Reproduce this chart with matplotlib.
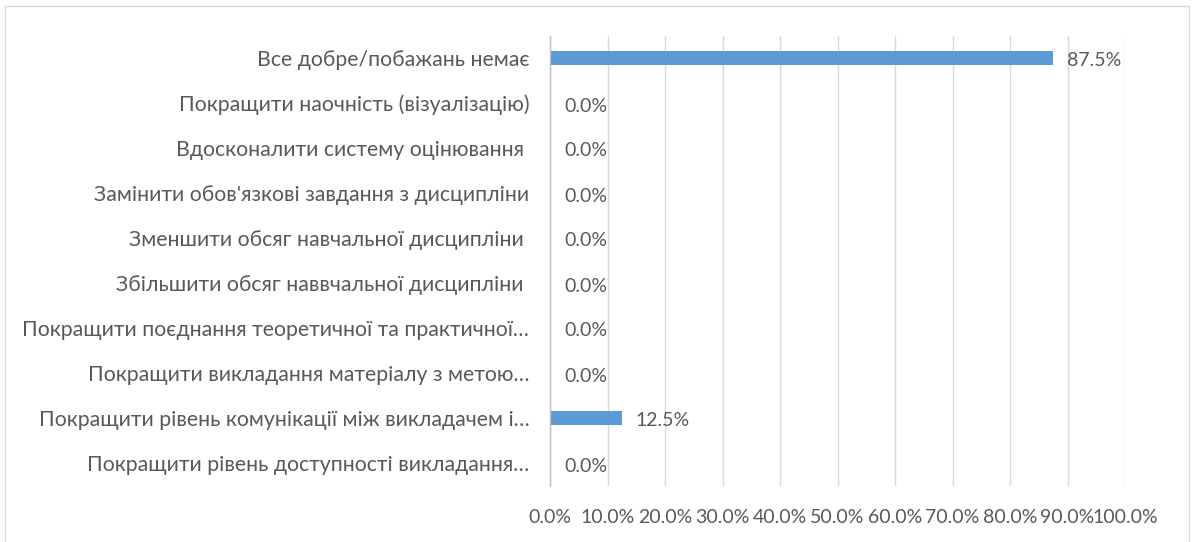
import matplotlib
matplotlib.use("Agg")
import matplotlib.pyplot as plt
from matplotlib.patches import Rectangle

categories = [
    "Все добре/побажань немає",
    "Покращити наочність (візуалізацію)",
    "Вдосконалити систему оцінювання ",
    "Замінити обов'язкові завдання з дисципліни",
    "Зменшити обсяг навчальної дисципліни ",
    "Збільшити обсяг наввчальної дисципліни ",
    "Покращити поєднання теоретичної та практичної…",
    "Покращити викладання матеріалу з метою…",
    "Покращити рівень комунікації між викладачем і…",
    "Покращити рівень доступності викладання…",
]
values = [87.5, 0.0, 0.0, 0.0, 0.0, 0.0, 0.0, 0.0, 12.5, 0.0]
xticks = [0, 10, 20, 30, 40, 50, 60, 70, 80, 90, 100]
xtick_labels = ["0.0%", "10.0%", "20.0%", "30.0%", "40.0%", "50.0%",
                "60.0%", "70.0%", "80.0%", "90.0%", "100.0%"]

plt.rcParams['font.family'] = ['Lato', 'DejaVu Sans']
TEXT = "#595959"
FS = 15.3
FS_T = 14.0

W, H, DPI = 1193, 542, 100
fig = plt.figure(figsize=(W / DPI, H / DPI), dpi=DPI)
fig.patch.set_facecolor("white")
fig.add_artist(Rectangle((5 / W, -0.05), (1189 - 5) / W, 1.05 - 6 / H,
                         transform=fig.transFigure, fill=False,
                         edgecolor="#D9D9D9", linewidth=1.0))

left, right = 550 / W, 1125 / W
top, bottom = 1 - 35.5 / H, 1 - 485.5 / H
ax = fig.add_axes([left, bottom, right - left, top - bottom])

n = len(categories)
ypos = list(range(n))
ax.barh(ypos, values, height=0.32, color="#5B9BD5", zorder=3)
ax.set_ylim(n - 0.5, -0.5)
ax.set_xlim(0, 100)

ax.set_xticks(xticks)
ax.set_xticklabels(xtick_labels)
ax.set_yticks(ypos)
ax.set_yticklabels(categories)
ax.tick_params(axis="both", length=0, labelcolor=TEXT)
ax.tick_params(axis="y", pad=15, labelsize=FS)
ax.tick_params(axis="x", pad=17, labelsize=FS_T)
ax.grid(axis="x", color="#D9D9D9", linewidth=1.0, zorder=0)
for s in ["top", "right", "bottom"]:
    ax.spines[s].set_visible(False)
ax.spines["left"].set_color("#BFBFBF")
ax.spines["left"].set_linewidth(1.0)
ax.spines["left"].set_zorder(4)

for y, v in zip(ypos, values):
    ax.annotate(f"{v:.1f}%", xy=(v, y), xytext=(14, -3), textcoords="offset pixels",
                ha="left", va="center", fontsize=FS_T, color=TEXT)

fig.savefig("out.png", dpi=DPI)
